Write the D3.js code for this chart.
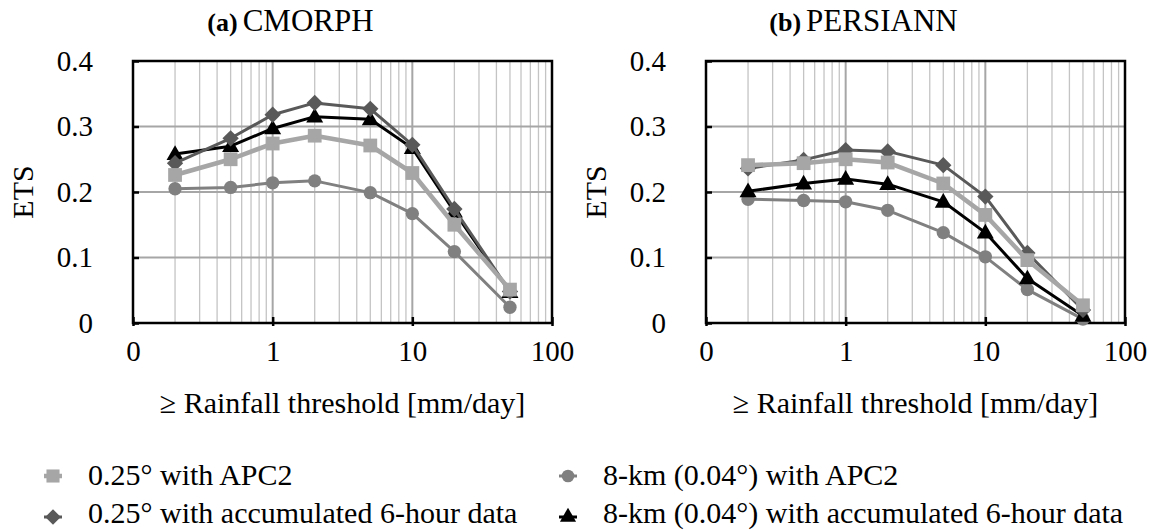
<!DOCTYPE html>
<html>
<head>
<meta charset="utf-8">
<script src="https://cdn.jsdelivr.net/npm/d3@7"></script>
<style>
  html, body { margin: 0; padding: 0; background: #fff; }
  svg { display: block; }
  svg text { font-family: "Liberation Serif", "DejaVu Serif", serif; }
</style>
</head>
<body>
<svg id="chart" width="1149" height="531"></svg>
<script>
// ---- data ----
const thresholds = [0.2, 0.5, 1, 2, 5, 10, 20, 50];
const xTickValues = [0.1, 1, 10, 100];
const xTickLabels = ["0", "1", "10", "100"];
const yTickValues = [0, 0.1, 0.2, 0.3, 0.4];
const yTickLabels = ["0", "0.1", "0.2", "0.3", "0.4"];
const panelTitlesBold = ["(a)", "(b)"];
const panelTitles = ["CMORPH", "PERSIANN"];
const seriesNames = [
  "0.25° with APC2",
  "0.25° with accumulated 6-hour data",
  "8-km (0.04°) with APC2",
  "8-km (0.04°) with accumulated 6-hour data"
];
// CMORPH
const cmorphApc025   = [0.226, 0.250, 0.274, 0.286, 0.271, 0.229, 0.150, 0.051];
const cmorph6h025    = [0.244, 0.282, 0.318, 0.336, 0.327, 0.272, 0.174, 0.048];
const cmorphApc8km   = [0.205, 0.207, 0.214, 0.217, 0.199, 0.167, 0.109, 0.024];
const cmorph6h8km    = [0.258, 0.270, 0.297, 0.315, 0.311, 0.267, 0.170, 0.047];
// PERSIANN
const persiannApc025 = [0.241, 0.244, 0.250, 0.245, 0.213, 0.165, 0.096, 0.027];
const persiann6h025  = [0.236, 0.249, 0.264, 0.262, 0.241, 0.193, 0.107, 0.020];
const persiannApc8km = [0.189, 0.187, 0.185, 0.172, 0.138, 0.101, 0.051, 0.006];
const persiann6h8km  = [0.201, 0.213, 0.220, 0.212, 0.185, 0.138, 0.068, 0.011];

const panelsData = [
  [cmorphApc025, cmorph6h025, cmorphApc8km, cmorph6h8km],
  [persiannApc025, persiann6h025, persiannApc8km, persiann6h8km]
];

// ---- styles ----
const seriesStyle = [
  { color: "#a6a6a6", width: 4.5, symbol: d3.symbolSquare,   size: 190 },
  { color: "#595959", width: 3,   symbol: d3.symbolDiamond2, size: 170 },
  { color: "#808080", width: 3,   symbol: d3.symbolCircle,   size: 140 },
  { color: "#000000", width: 3,   symbol: d3.symbolTriangle, size: 125 }
];
const drawOrder = [2, 3, 1, 0];

const svg = d3.select("#chart");
const plotTop = 61, plotBottom = 323;
const panelLeft = [133, 706];
const panelWidth = 419;
const fontMain = '"Liberation Serif", "DejaVu Serif", serif';

panelsData.forEach((data, p) => {
  const left = panelLeft[p], right = left + panelWidth;
  const x = d3.scaleLog().domain([0.1, 100]).range([left, right]);
  const y = d3.scaleLinear().domain([0, 0.4]).range([plotBottom, plotTop]);
  const g = svg.append("g");

  // minor vertical gridlines
  const minor = [];
  [0.1, 1, 10].forEach(dec => { for (let k = 2; k <= 9; k++) minor.push(dec * k); });
  g.selectAll(".minor").data(minor).enter().append("line")
    .attr("x1", d => x(d)).attr("x2", d => x(d))
    .attr("y1", plotTop).attr("y2", plotBottom)
    .attr("stroke", "#c4c4c4").attr("stroke-width", 1.3);
  // major vertical gridlines
  g.selectAll(".major").data([1, 10]).enter().append("line")
    .attr("x1", d => x(d)).attr("x2", d => x(d))
    .attr("y1", plotTop).attr("y2", plotBottom)
    .attr("stroke", "#a6a6a6").attr("stroke-width", 2);
  // horizontal gridlines
  g.selectAll(".hgrid").data([0.1, 0.2, 0.3]).enter().append("line")
    .attr("x1", left).attr("x2", right)
    .attr("y1", d => y(d)).attr("y2", d => y(d))
    .attr("stroke", "#a6a6a6").attr("stroke-width", 2);

  // frame
  g.append("rect").attr("x", left).attr("y", plotTop)
    .attr("width", right - left).attr("height", plotBottom - plotTop)
    .attr("fill", "none").attr("stroke", "#000").attr("stroke-width", 2.5);

  // y axis
  const yAxis = d3.axisLeft(y).tickValues(yTickValues)
    .tickFormat((d, i) => yTickLabels[i]).tickSizeInner(-6).tickSizeOuter(0).tickPadding(40);
  const ya = g.append("g").attr("transform", `translate(${left},0)`).call(yAxis);
  ya.attr("font-family", null).attr("font-size", null);
  ya.select(".domain").remove();
  ya.selectAll(".tick line").attr("stroke", "#000").attr("stroke-width", 2.5);
  ya.selectAll(".tick text").style("font-family", fontMain).style("font-size", "29px").attr("fill", "#000");

  // x axis
  const xAxis = d3.axisBottom(x).tickValues(xTickValues)
    .tickFormat((d, i) => xTickLabels[i]).tickSizeInner(-6).tickSizeOuter(0).tickPadding(17);
  const xa = g.append("g").attr("transform", `translate(0,${plotBottom})`).call(xAxis);
  xa.attr("font-family", null).attr("font-size", null);
  xa.select(".domain").remove();
  xa.selectAll(".tick line").attr("stroke", "#000").attr("stroke-width", 2.5)
    .attr("y1", 3);
  xa.selectAll(".tick text").style("font-family", fontMain).style("font-size", "29px").attr("fill", "#000");

  // series
  drawOrder.forEach(s => {
    const st = seriesStyle[s];
    const vals = data[s];
    const pts = thresholds.map((t, i) => [t, vals[i]]);
    g.append("path").datum(pts)
      .attr("fill", "none").attr("stroke", st.color).attr("stroke-width", st.width)
      .attr("stroke-linejoin", "round")
      .attr("d", d3.line().x(d => x(d[0])).y(d => y(d[1])));
    g.selectAll(null).data(pts).enter().append("path")
      .attr("transform", d => `translate(${x(d[0])},${y(d[1]) + (st.symbol === d3.symbolTriangle ? 1 : 0)})`)
      .attr("d", d3.symbol().type(st.symbol).size(st.size))
      .attr("fill", st.color);
  });

  // panel title
  const title = g.append("text")
    .attr("x", (left + right) / 2 - 52).attr("y", 31)
    .attr("text-anchor", "middle").style("font-family", fontMain).attr("fill", "#000");
  title.append("tspan").style("font-weight", "bold").style("font-size", "26px").text(panelTitlesBold[p]);
  title.append("tspan").style("font-size", "31px").attr("dx", 5).text(panelTitles[p]);

  // y axis title
  g.append("text")
    .attr("transform", `translate(${left - 100},192) rotate(-90)`)
    .attr("text-anchor", "middle").style("font-family", fontMain).style("font-size", "30px")
    .text("ETS");

  // x axis title
  g.append("text")
    .attr("x", (left + right) / 2).attr("y", 413)
    .attr("text-anchor", "middle").style("font-family", fontMain).style("font-size", "30px")
    .text("≥ Rainfall threshold [mm/day]");
});

// ---- legend ----
const legendPos = [
  { mx: 53, tx: 88, my: 476, ty: 485 },
  { mx: 53, tx: 88, my: 517, ty: 523 },
  { mx: 568, tx: 603, my: 476, ty: 485 },
  { mx: 568, tx: 603, my: 517, ty: 523 }
];
const leg = svg.append("g");
seriesNames.forEach((name, s) => {
  const st = seriesStyle[s], pos = legendPos[s];
  leg.append("line").attr("x1", pos.mx - 9).attr("x2", pos.mx + 9)
    .attr("y1", pos.my).attr("y2", pos.my)
    .attr("stroke", st.color).attr("stroke-width", st.width);
  leg.append("path")
    .attr("transform", `translate(${pos.mx},${pos.my})`)
    .attr("d", d3.symbol().type(st.symbol).size(st.size * 0.9))
    .attr("fill", st.color);
  leg.append("text").attr("x", pos.tx).attr("y", pos.ty)
    .style("font-family", fontMain).style("font-size", "30px").attr("fill", "#000")
    .text(name);
});
</script>
</body>
</html>
